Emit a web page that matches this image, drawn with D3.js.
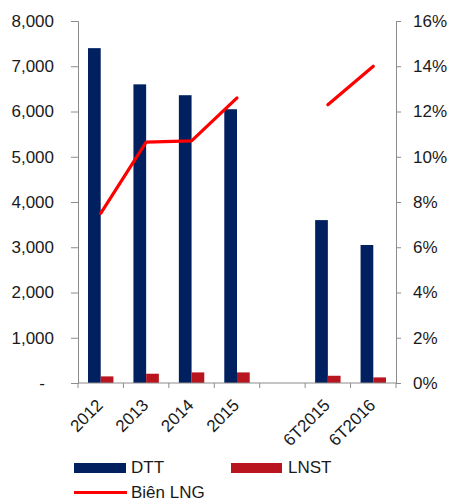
<!DOCTYPE html>
<html><head><meta charset="utf-8">
<script src="https://cdn.jsdelivr.net/npm/d3@7"></script>
<style>body{margin:0;background:#fff}svg text{font-family:"Liberation Sans",Arial,sans-serif;fill:#1a1a1a}</style>
</head><body><svg id="c" width="449" height="502"></svg>
<script>
const categories = ["2012","2013","2014","2015","","6T2015","6T2016"];
const dtt = [7400, 6600, 6360, 6050, null, 3600, 3050];
const lnst = [146, 205, 234, 234, null, 160, 124];
const bienLNG = [7.5, 10.65, 10.7, 12.6, null, 12.3, 14.0];
const leftTicks = [0,1000,2000,3000,4000,5000,6000,7000,8000];
const rightTicks = [0,2,4,6,8,10,12,14,16];

const svg = d3.select("#c");
const L = 78, R = 396, T = 21, B = 383;
const axisColor = "#8c8c8c";
const x = d3.scaleBand().domain(d3.range(categories.length)).range([L, R]).paddingInner(0).paddingOuter(0);
const xs = d3.scaleBand().domain(["DTT","LNST"]).range([0, x.bandwidth()]).paddingInner(0).paddingOuter(0.787);
const yL = d3.scaleLinear().domain([0, 8000]).range([B, T]);
const yR = d3.scaleLinear().domain([0, 16]).range([B, T]);

// bars
const g = svg.append("g");
categories.forEach((c, i) => {
  if (dtt[i] != null) g.append("rect").attr("x", x(i) + xs("DTT")).attr("y", yL(dtt[i])).attr("width", xs.bandwidth()).attr("height", B - yL(dtt[i])).attr("fill", "#002060");
  if (lnst[i] != null) g.append("rect").attr("x", x(i) + xs("LNST")).attr("y", yL(lnst[i])).attr("width", xs.bandwidth()).attr("height", B - yL(lnst[i])).attr("fill", "#B8151E");
});

// axes
const ax = svg.append("g").attr("transform", `translate(${L},0)`)
  .call(d3.axisLeft(yL).tickValues(leftTicks).tickSize(7).tickPadding(17).tickFormat(d => d === 0 ? "-" : d3.format(",")(d)));
ax.selectAll(".tick text").filter(d => d === 0).attr("x", -33);
const ar = svg.append("g").attr("transform", `translate(${R},0)`)
  .call(d3.axisRight(yR).tickValues(rightTicks).tickSize(5).tickPadding(12).tickFormat(d => d + "%"));
const xb = svg.append("g").attr("transform", `translate(0,${B})`)
  .call(d3.axisBottom(x).tickSize(0).tickFormat(i => categories[i]));
[ax, ar, xb].forEach(a => {
  a.select(".domain").attr("stroke", axisColor);
  a.selectAll(".tick line").attr("stroke", axisColor);
  a.selectAll("text").attr("font-size", 17).attr("font-family", "Liberation Sans, Arial, sans-serif").attr("fill", "#1a1a1a");
});
xb.select(".domain").attr("d", `M${L},0H${R}`);
xb.selectAll(".tick text").attr("text-anchor", "end").attr("dy", "0.35em").attr("y", 0)
  .attr("transform", "translate(-1,19) rotate(-45)");
// category boundary ticks
const bounds = d3.range(categories.length + 1).map(i => L + i * x.step());
xb.selectAll(".btick").data(bounds).join("line").attr("x1", d => d).attr("x2", d => d).attr("y1", 0).attr("y2", 5).attr("stroke", axisColor);

// line
const pts = categories.map((c, i) => ({ x: x(i) + x.bandwidth() / 2, v: bienLNG[i] }));
svg.append("path").datum(pts)
  .attr("d", d3.line().defined(d => d.v != null).x(d => d.x).y(d => yR(d.v)))
  .attr("fill", "none").attr("stroke", "#FF0000").attr("stroke-width", 3.2).attr("stroke-linecap", "round").attr("stroke-linejoin", "round");

// legend
const lg = svg.append("g").attr("font-size", 17);
lg.append("rect").attr("x", 74).attr("y", 463).attr("width", 52).attr("height", 10).attr("fill", "#002060");
lg.append("text").attr("x", 131).attr("y", 472.5).text("DTT");
lg.append("rect").attr("x", 231).attr("y", 463).attr("width", 51).attr("height", 10).attr("fill", "#B8151E");
lg.append("text").attr("x", 288).attr("y", 472.5).text("LNST");
lg.append("line").attr("x1", 74).attr("x2", 127).attr("y1", 492.5).attr("y2", 492.5).attr("stroke", "#FF0000").attr("stroke-width", 3);
lg.append("text").attr("x", 131).attr("y", 498).text("Biên LNG");
</script></body></html>
